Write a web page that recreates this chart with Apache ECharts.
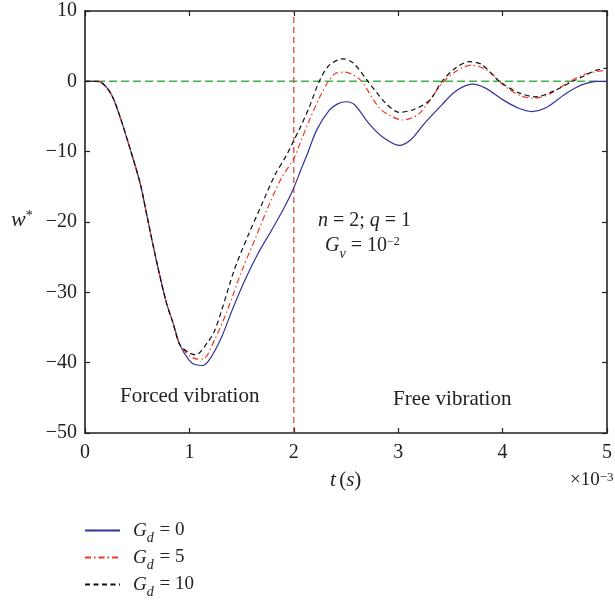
<!DOCTYPE html>
<html>
<head>
<meta charset="utf-8">
<script src="https://cdn.jsdelivr.net/npm/echarts@6/dist/echarts.min.js"></script>
<style>html,body{margin:0;padding:0;background:#fff}#c{width:615px;height:603px}</style>
</head>
<body>
<div id="c"></div>
<script>
// shared forced-response start (all three curves coincide)
var tStart = [0, 0.1, 0.15, 0.25, 0.33, 0.43, 0.53, 0.6, 0.69, 0.78, 0.84, 0.91];
var wStart = [0, 0, -0.1, -1.8, -4.8, -9.5, -14.6, -19.6, -25.9, -31.5, -34.2, -37.5];

var tGd0 = [1.0, 1.06, 1.13, 1.2, 1.31, 1.41, 1.53, 1.66, 1.79, 1.91, 1.99, 2.07, 2.12, 2.22, 2.34, 2.42, 2.5, 2.58, 2.72, 2.85, 3.01, 3.12, 3.25, 3.42, 3.55, 3.71, 3.84, 4.0, 4.15, 4.28, 4.41, 4.6, 4.7, 4.8, 4.9, 5.0];
var wGd0 = [-39.7, -40.3, -40.4, -39.4, -36.3, -32.5, -28.3, -24.4, -21.1, -17.9, -15.5, -12.5, -10.7, -6.9, -4.1, -3.2, -2.9, -3.3, -6.0, -7.9, -9.1, -8.3, -6.0, -3.3, -1.4, -0.4, -1.0, -2.6, -3.8, -4.3, -3.8, -1.8, -0.9, -0.3, 0.0, 0.0];

var tGd5 = [1.0, 1.08, 1.13, 1.24, 1.37, 1.5, 1.63, 1.75, 1.88, 2.0, 2.06, 2.15, 2.25, 2.34, 2.41, 2.49, 2.57, 2.65, 2.82, 2.94, 3.04, 3.2, 3.42, 3.55, 3.7, 3.85, 4.03, 4.18, 4.3, 4.45, 4.6, 4.75, 4.9, 5.0];
var wGd5 = [-39.0, -39.5, -39.5, -36.8, -32.3, -27.0, -22.4, -18.0, -13.8, -11.0, -8.8, -5.5, -2.2, 0.2, 1.2, 1.3, 0.9, 0.0, -3.8, -5.0, -5.5, -4.6, -0.3, 1.4, 2.3, 1.6, -0.8, -2.1, -2.4, -1.8, -0.4, 0.8, 1.4, 1.6];

var tGd10 = [1.0, 1.06, 1.17, 1.24, 1.31, 1.43, 1.56, 1.69, 1.82, 1.93, 2.0, 2.06, 2.15, 2.25, 2.34, 2.47, 2.57, 2.71, 2.88, 3.01, 3.15, 3.3, 3.42, 3.55, 3.68, 3.8, 3.97, 4.15, 4.32, 4.5, 4.67, 4.8, 4.9, 5.0];
var wGd10 = [-38.6, -38.9, -37.2, -35.5, -32.5, -26.8, -22.0, -17.6, -13.3, -10.5, -8.4, -6.6, -3.6, 0.2, 2.3, 3.2, 2.6, 0.0, -3.1, -4.4, -4.0, -2.7, 0.0, 1.9, 2.8, 2.4, 0.0, -1.6, -2.2, -1.3, 0.0, 0.9, 1.6, 1.9];

var xTicks = [0, 1, 2, 3, 4, 5];
var yTicks = [-50, -40, -30, -20, -10, 0, 10];
var seriesNames = ['Gd0', 'Gd5', 'Gd10'];
var seriesLabels = ['0', '5', '10'];
var zeroLineEnd = 4.92;
var switchTime = 2;

function pairs(t, w) {
  var out = [];
  for (var i = 0; i < t.length; i++) out.push([t[i], w[i]]);
  return out;
}
function full(t, w) {
  return pairs(tStart, wStart).concat(pairs(t, w));
}

var FONT = '"Liberation Serif", "DejaVu Serif", serif';
var chart = echarts.init(document.getElementById('c'), null, {renderer: 'canvas'});

var axisCommon = {
  axisLine: {show: true, onZero: false, lineStyle: {color: '#222', width: 1.6}},
  axisTick: {show: true, inside: true, length: 5, lineStyle: {color: '#222', width: 1.2}},
  splitLine: {show: false}
};

var option = {
  animation: false,
  backgroundColor: '#fff',
  grid: {left: 85, right: 7, top: 11, bottom: 170, containLabel: false},
  xAxis: [
    Object.assign({type: 'value', min: 0, max: 5, interval: 1, position: 'bottom',
      axisLabel: {show: true, margin: 10, color: '#222', fontSize: 20, fontFamily: FONT}}, axisCommon),
    Object.assign({type: 'value', min: 0, max: 5, interval: 1, position: 'top',
      axisLabel: {show: false}}, axisCommon)
  ],
  yAxis: [
    Object.assign({type: 'value', min: -50, max: 10, interval: 10, position: 'left',
      axisLabel: {show: true, margin: 8, color: '#222', fontSize: 20, fontFamily: FONT,
        formatter: function (v) { return String(v).replace('-', '\u2212'); }}}, axisCommon),
    Object.assign({type: 'value', min: -50, max: 10, interval: 10, position: 'right',
      axisLabel: {show: false}}, axisCommon)
  ],
  legend: {
    orient: 'vertical',
    left: 84,
    top: 521,
    itemWidth: 35,
    itemHeight: 14,
    itemGap: 3,
    padding: 0,
    data: seriesNames,
    itemStyle: {opacity: 0},
    textStyle: {
      color: '#222',
      fontFamily: FONT,
      fontSize: 19,
      padding: [0, 0, 0, 8],
      rich: {
        g: {fontFamily: FONT, fontStyle: 'italic', fontSize: 19, color: '#222'},
        s: {fontFamily: FONT, fontStyle: 'italic', fontSize: 14, color: '#222', verticalAlign: 'bottom', lineHeight: 13, padding: [0, 1, -5, 0]},
        n: {fontFamily: FONT, fontSize: 19, color: '#222'}
      }
    },
    formatter: function (name) {
      var i = seriesNames.indexOf(name);
      return '{g|G}{s|d}{n| = ' + seriesLabels[i] + '}';
    }
  },
  series: [
    {name: 'zero', type: 'line', data: [[0, 0], [zeroLineEnd, 0]], symbol: 'none', silent: true,
      lineStyle: {color: '#3cb44b', width: 1.5, type: [8, 4]}, z: 1},
    {name: 'switch', type: 'line', data: [[switchTime, -50], [switchTime, 10]], symbol: 'none', silent: true,
      lineStyle: {color: '#e0362a', width: 1.2, type: [6, 4]}, z: 1},
    {name: 'Gd0', type: 'line', data: full(tGd0, wGd0), symbol: 'none', smooth: 0.3,
      lineStyle: {color: '#33339a', width: 1.2, type: 'solid'}, itemStyle: {color: '#33339a'}, z: 3},
    {name: 'Gd5', type: 'line', data: full(tGd5, wGd5), symbol: 'none', smooth: 0.3,
      lineStyle: {color: '#ee3a24', width: 1.2, type: [6, 3, 1.5, 3]}, itemStyle: {color: '#ee3a24'}, z: 4},
    {name: 'Gd10', type: 'line', data: full(tGd10, wGd10), symbol: 'none', smooth: 0.3,
      lineStyle: {color: '#111', width: 1.2, type: [5, 3.5]}, itemStyle: {color: '#111'}, z: 5}
  ],
  graphic: [
    {type: 'text', left: 11, top: 209, style: {
      text: '{i|w}{s|*}', rich: {
        i: {fontFamily: FONT, fontStyle: 'italic', fontSize: 22, fill: '#222'},
        s: {fontFamily: FONT, fontSize: 14, fill: '#222', verticalAlign: 'top', lineHeight: 10}
      }}},
    {type: 'text', left: 330, top: 470, style: {
      text: '{i|t} {n|(}{i|s}{n|)}', rich: {
        i: {fontFamily: FONT, fontStyle: 'italic', fontSize: 21, fill: '#222'},
        n: {fontFamily: FONT, fontSize: 21, fill: '#222'}
      }}},
    {type: 'text', left: 570, top: 471, style: {
      text: '{n|\u00d710}{s|\u22123}', rich: {
        n: {fontFamily: FONT, fontSize: 19, fill: '#222'},
        s: {fontFamily: FONT, fontSize: 13, fill: '#222', verticalAlign: 'top', lineHeight: 10}
      }}},
    {type: 'text', left: 318, top: 211, style: {
      text: '{i|n}{n| = 2; }{i|q}{n| = 1}', rich: {
        i: {fontFamily: FONT, fontStyle: 'italic', fontSize: 20, fill: '#222'},
        n: {fontFamily: FONT, fontSize: 20, fill: '#222'}
      }}},
    {type: 'text', left: 325, top: 236, style: {
      text: '{i|G}{s|v}{n| = 10}{p|\u22122}', rich: {
        i: {fontFamily: FONT, fontStyle: 'italic', fontSize: 20, fill: '#222'},
        s: {fontFamily: FONT, fontStyle: 'italic', fontSize: 14, fill: '#222', verticalAlign: 'bottom', lineHeight: 12, padding: [0, 0, -5, 0]},
        n: {fontFamily: FONT, fontSize: 20, fill: '#222'},
        p: {fontFamily: FONT, fontSize: 12, fill: '#222', verticalAlign: 'top', lineHeight: 10}
      }}},
    {type: 'text', left: 120, top: 386, style: {
      text: 'Forced vibration', fontFamily: FONT, fontSize: 21, fill: '#222'}},
    {type: 'text', left: 393, top: 389, style: {
      text: 'Free vibration', fontFamily: FONT, fontSize: 21, fill: '#222'}}
  ]
};
chart.setOption(option);
</script>
</body>
</html>
